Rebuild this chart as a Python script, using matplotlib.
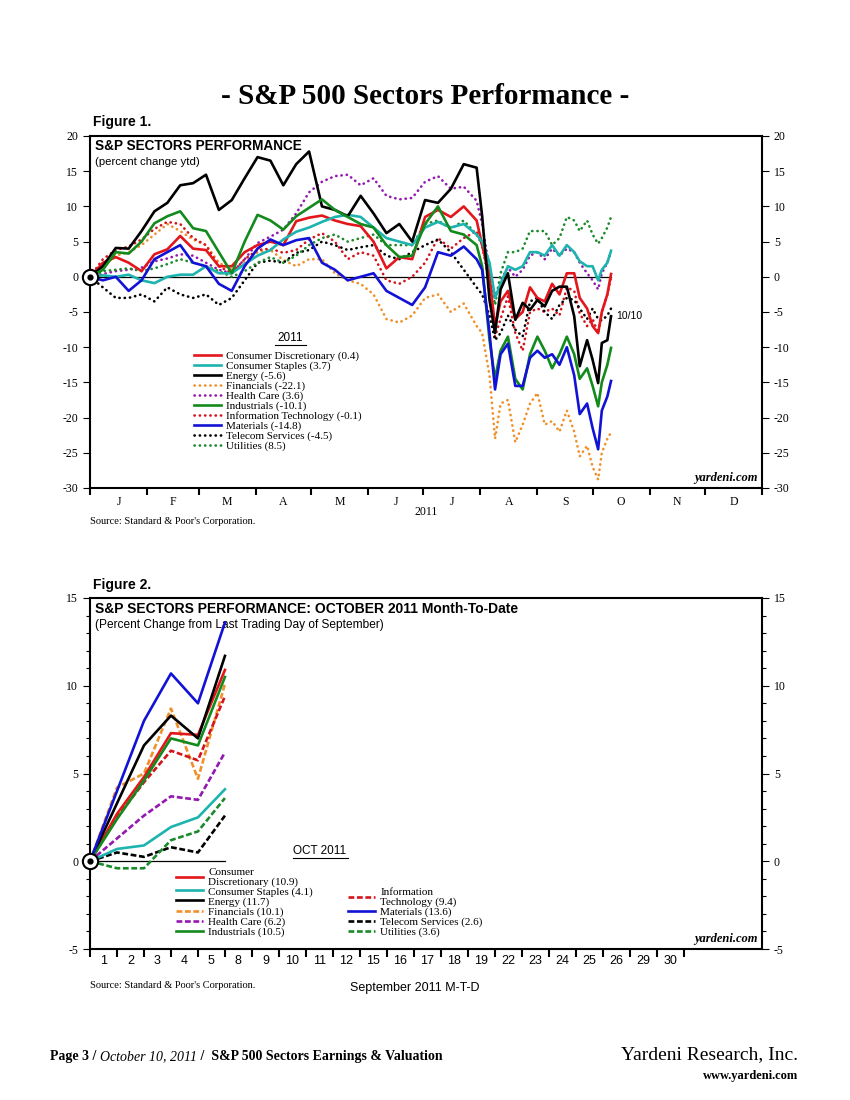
import numpy as np
import matplotlib
matplotlib.use('Agg')
import matplotlib.pyplot as plt
from matplotlib.ticker import MultipleLocator

SERIF = 'Liberation Serif'
SANS = 'Liberation Sans'
plt.rcParams['font.family'] = SERIF
plt.rcParams['axes.unicode_minus'] = False

# ---- Figure 1: percent change ytd 2011, x = days since Dec 31 2010 ----
days = list(range(0, 211, 7)) + [213, 217, 220, 223, 227, 231, 235, 239, 243, 247,
                                  251, 255, 259, 263, 266, 270, 273, 276, 278, 281, 283]

cons_disc = [0, 2.0, 2.8, 2.0, 0.8, 3.2, 3.9, 5.8, 4.0, 3.8, 1.5, 1.5, 3.5, 4.5, 5.0,
             4.5, 7.9, 8.4, 8.7, 8.0, 7.5, 7.2, 5.0, 1.2, 2.8, 2.5, 8.5, 9.5, 8.5,
             10.0, 8.0,
             4.5, 0.0, -7.0, -3.5, -2.0, -6.0, -5.0, -1.5, -3.0, -3.5, -1.0, -2.5, 0.5,
             0.5, -3.0, -4.5, -7.0, -8.0, -5.0, -2.5, 0.4]
cons_staples = [0, 0.2, 0.0, 0.3, -0.5, -0.9, 0.0, 0.3, 0.3, 1.5, 0.5, 0.5, 1.8, 3.0, 3.8,
                5.3, 6.4, 7.0, 7.8, 8.5, 8.8, 8.5, 7.0, 5.5, 5.0, 4.5, 7.0, 7.8, 7.0,
                7.5, 6.0,
                5.0, 2.0, -3.0, -1.0, 1.5, 1.0, 1.5, 3.5, 3.5, 3.0, 4.5, 3.0, 4.5,
                3.5, 2.2, 1.5, 1.5, -0.5, 1.0, 2.0, 3.7]
energy = [0, 1.5, 4.1, 4.0, 6.5, 9.3, 10.5, 13.0, 13.3, 14.5, 9.5, 10.9, 14.0, 17.0, 16.5,
          13.0, 16.0, 17.8, 10.0, 9.5, 8.6, 11.5, 9.0, 6.2, 7.5, 5.0, 10.9, 10.5, 12.5,
          16.0, 15.5,
          8.6, -3.3, -8.0, -1.8, 0.5, -6.1, -3.7, -4.7, -3.3, -4.2, -2.0, -1.4, -1.4,
          -5.6, -12.7, -9.0, -11.8, -15.1, -9.4, -9.0, -5.6]
financials = [0, 1.5, 3.0, 3.5, 4.5, 6.0, 7.5, 6.5, 5.3, 4.5, 2.0, 1.0, 2.0, 3.5, 3.8,
              2.4, 1.5, 2.5, 2.5, 0.5, -0.5, -1.0, -2.5, -6.0, -6.5, -5.5, -3.0, -2.5, -5.0,
              -3.8, -7.0,
              -8.0, -14.0, -23.0, -18.0, -17.5, -23.5, -21.0, -18.0, -16.5, -21.0, -20.5,
              -22.0, -19.0, -22.0, -25.5, -24.0, -27.0, -28.8, -25.0, -23.0, -22.1]
health_care = [0, 0.4, 0.8, 1.0, 1.3, 2.2, 2.6, 3.2, 3.0, 2.0, 1.0, 0.5, 2.5, 4.8, 5.7,
               6.7, 9.0, 12.0, 13.5, 14.3, 14.5, 13.0, 14.0, 11.5, 11.0, 11.2, 13.5, 14.3, 12.5,
               12.8, 10.8,
               7.5, 1.0, -3.0, -0.5, 1.3, 0.0, 1.0, 3.0, 3.5, 2.5, 4.0, 3.0, 4.0,
               3.5, 2.0, 0.5, -0.5, -1.8, 0.5, 2.0, 3.6]
industrials = [0, 1.0, 3.5, 3.3, 5.0, 7.6, 8.6, 9.3, 6.9, 6.5, 3.5, 0.5, 5.0, 8.8, 8.0,
               6.7, 8.6, 9.8, 11.0, 9.5, 8.5, 7.5, 7.0, 4.5, 2.8, 3.0, 7.5, 10.0, 6.5,
               6.0, 4.5,
               1.5, -9.0, -14.5, -10.5, -8.5, -14.5, -16.0, -11.0, -8.5, -10.5, -13.0,
               -11.0, -8.5, -11.0, -14.5, -13.0, -15.5, -18.4, -15.0, -12.5, -10.1]
info_tech = [0, 2.5, 3.8, 4.3, 5.3, 6.8, 7.8, 7.5, 5.5, 4.5, 1.5, 0.5, 2.5, 3.8, 4.0,
             3.4, 3.8, 5.3, 6.2, 5.0, 2.5, 3.5, 3.0, -0.5, -1.0, 0.0, 2.0, 5.5, 4.0,
             5.5, 6.5,
             4.5, -1.0, -8.5, -6.0, -2.8, -8.0, -10.5, -5.0, -4.5, -5.0, -4.5, -5.5, -1.5,
             -2.0, -5.2, -7.0, -6.0, -8.0, -5.0, -2.5, -0.1]
materials = [0, -0.5, 0.0, -2.0, -0.5, 2.5, 3.5, 4.5, 2.0, 1.5, -1.0, -2.0, 1.5, 4.0, 5.3,
             4.5, 5.2, 5.5, 2.0, 1.0, -0.5, 0.0, 0.5, -2.0, -3.0, -4.0, -1.5, 3.5, 3.0,
             4.3, 2.5,
             1.0, -8.0, -16.0, -11.0, -9.5, -15.5, -15.5, -11.5, -10.5, -11.5, -11.0,
             -12.5, -10.0, -14.0, -19.5, -18.0, -21.5, -24.5, -19.0, -17.0, -14.8]
telecom = [0, -1.5, -3.0, -3.0, -2.5, -3.5, -1.5, -2.5, -3.0, -2.5, -4.0, -3.0, -0.5, 2.0, 2.3,
           2.0, 3.4, 3.8, 5.0, 4.5, 3.8, 4.2, 4.5, 3.0, 2.5, 3.5, 4.5, 5.3, 3.5,
           1.0, -1.5,
           -2.5, -5.5, -9.0, -8.0, -5.5, -7.5, -8.5, -3.5, -3.0, -5.0, -6.0, -4.0, -3.0,
           -3.3, -4.5, -6.0, -4.5, -6.0, -6.2, -5.5, -4.5]
utilities = [0, 0.8, 1.0, 1.2, 0.8, 1.2, 1.8, 2.5, 2.0, 1.5, 0.8, 0.0, 0.8, 2.0, 2.8,
             2.0, 3.0, 4.5, 5.5, 6.0, 5.0, 5.5, 6.0, 4.5, 4.5, 4.5, 7.5, 8.0, 6.8,
             8.0, 6.0,
             4.5, 1.0, -4.0, 0.5, 3.5, 3.5, 4.0, 6.5, 6.5, 6.5, 4.5, 5.5, 8.5,
             8.0, 6.5, 8.0, 6.0, 4.7, 5.5, 7.0, 8.5]

sectors = ['Consumer Discretionary', 'Consumer Staples', 'Energy', 'Financials',
           'Health Care', 'Industrials', 'Information Technology', 'Materials',
           'Telecom Services', 'Utilities']
ytd_change = [0.4, 3.7, -5.6, -22.1, 3.6, -10.1, -0.1, -14.8, -4.5, 8.5]
month_names = ['J', 'F', 'M', 'A', 'M', 'J', 'J', 'A', 'S', 'O', 'N', 'D']
month_starts = [0, 31, 59, 90, 120, 151, 181, 212, 243, 273, 304, 334, 365]

# ---- Figure 2: October 2011 month-to-date ----
oct_x = [0, 1, 2, 3, 4, 5]
cons_disc_oct = [0, 2.7, 4.8, 7.3, 7.2, 10.9]
cons_staples_oct = [0, 0.7, 0.9, 1.95, 2.5, 4.1]
energy_oct = [0, 3.3, 6.6, 8.3, 7.0, 11.7]
financials_oct = [0, 4.2, 5.0, 8.7, 4.7, 10.1]
health_care_oct = [0, 1.3, 2.6, 3.7, 3.5, 6.2]
industrials_oct = [0, 2.4, 4.6, 7.0, 6.6, 10.5]
info_tech_oct = [0, 2.5, 4.5, 6.3, 5.75, 9.4]
materials_oct = [0, 4.0, 8.0, 10.7, 9.0, 13.6]
telecom_oct = [0, 0.5, 0.25, 0.8, 0.5, 2.6]
utilities_oct = [0, -0.4, -0.4, 1.2, 1.7, 3.6]
mtd_change = [10.9, 4.1, 11.7, 10.1, 6.2, 10.5, 9.4, 13.6, 2.6, 3.6]
mtd_names = ['Consumer\nDiscretionary', 'Consumer Staples', 'Energy', 'Financials',
             'Health Care', 'Industrials', 'Information\nTechnology', 'Materials',
             'Telecom Services', 'Utilities']
day_labels = ['1', '2', '3', '4', '5', '8', '9', '10', '11', '12', '15', '16', '17',
              '18', '19', '22', '23', '24', '25', '26', '29', '30']

ytd_series = [cons_disc, cons_staples, energy, financials, health_care,
              industrials, info_tech, materials, telecom, utilities]
mtd_series = [cons_disc_oct, cons_staples_oct, energy_oct, financials_oct, health_care_oct,
              industrials_oct, info_tech_oct, materials_oct, telecom_oct, utilities_oct]

colors = ['#e3161c', '#1db3ae', 'black', '#f0902a', '#9418b0',
          '#138a1d', '#d3141c', '#1212d6', 'black', '#1b8a2a']
dotted = [False, False, False, True, True, False, True, False, True, True]

W, H = 850, 1100
fig = plt.figure(figsize=(8.5, 11), dpi=100)


def fx(px):
    return px / W


def fy(py):
    return 1 - py / H


def style_axes(ax):
    for s in ax.spines.values():
        s.set_linewidth(1.5)
    ax.tick_params(axis='y', which='both', left=True, right=True, labelleft=True,
                   labelright=True, direction='out', labelsize=8.5, width=0.8)
    ax.tick_params(axis='y', which='major', length=5)
    ax.tick_params(axis='y', which='minor', length=3)


def origin_marker(ax):
    ax.plot(0, 0, 'o', ms=11, mfc='white', mec='black', mew=1.5, clip_on=False, zorder=20)
    ax.plot(0, 0, 'o', ms=3.5, color='black', clip_on=False, zorder=21)


fig.text(0.5, fy(97), '- S&P 500 Sectors Performance -', ha='center', va='center',
         fontsize=21, fontweight='bold')

# ================= Figure 1 =================
fig.text(fx(93), fy(122), 'Figure 1.', fontsize=10, fontweight='bold', family=SANS,
         va='center')
ax1 = fig.add_axes([fx(90), fy(488), fx(762) - fx(90), fy(136) - fy(488)])
style_axes(ax1)

ax1.plot([days[0], days[-1]], [0, 0], color='black', lw=0.9, zorder=1)
handles = []
for i, ser in enumerate(ytd_series):
    if dotted[i]:
        ln, = ax1.plot(days, ser, color=colors[i], lw=1.9, linestyle=(0, (0.1, 1.9)),
                       dash_capstyle='round', zorder=3)
    else:
        ln, = ax1.plot(days, ser, color=colors[i], lw=1.9, zorder=4)
    handles.append(ln)
origin_marker(ax1)

ax1.set_xlim(0, 365)
ax1.set_ylim(-30, 20)
ax1.yaxis.set_major_locator(MultipleLocator(5))
ax1.set_xticks(month_starts)
ax1.set_xticklabels([])
ax1.set_xticks([(a + b) / 2 for a, b in zip(month_starts[:-1], month_starts[1:])],
               minor=True)
ax1.set_xticklabels(month_names, minor=True, fontsize=8.5)
ax1.tick_params(axis='x', which='major', direction='out', length=5, width=1.5)
ax1.tick_params(axis='x', which='minor', length=0, pad=6)
ax1.set_xlabel('2011', fontsize=8.5, labelpad=-2)

ax1.text(0.008, 0.991, 'S&P SECTORS PERFORMANCE', transform=ax1.transAxes, va='top',
         fontsize=9.8, fontweight='bold', family=SANS)
ax1.text(0.008, 0.94, '(percent change ytd)', transform=ax1.transAxes, va='top',
         fontsize=8.2, family=SANS)
ax1.text(days[-1] + 3, energy[-1], '10/10', fontsize=7.5, family=SANS, va='center')
ax1.text(0.993, 0.012, 'yardeni.com', transform=ax1.transAxes, ha='right', va='bottom',
         fontsize=9, fontweight='bold', fontstyle='italic')

ax1.text(0.298, 0.41, '2011', transform=ax1.transAxes, ha='center', va='bottom',
         fontsize=8.5, family=SANS)
ax1.plot([0.275, 0.322], [0.407, 0.407], transform=ax1.transAxes, color='black', lw=0.8)
leg1 = ax1.legend(handles, [f'{n} ({v})' for n, v in zip(sectors, ytd_change)],
                  loc='upper left', bbox_to_anchor=(0.155, 0.39), frameon=False,
                  fontsize=8, labelspacing=0.0, handlelength=2.4, handletextpad=0.5,
                  borderpad=0, borderaxespad=0)

fig.text(fx(90), fy(521), "Source: Standard & Poor's Corporation.", fontsize=7.5,
         va='center')

# ================= Figure 2 =================
fig.text(fx(93), fy(585), 'Figure 2.', fontsize=10, fontweight='bold', family=SANS,
         va='center')
ax2 = fig.add_axes([fx(90), fy(949), fx(762) - fx(90), fy(598) - fy(949)])
style_axes(ax2)

ax2.plot([oct_x[0], oct_x[-1]], [0, 0], color='black', lw=0.9, zorder=1)
handles2 = []
for i, ser in enumerate(mtd_series):
    if dotted[i]:
        ln, = ax2.plot(oct_x, ser, color=colors[i], lw=1.9, linestyle=(0, (2.2, 1.0)),
                       zorder=3)
    else:
        ln, = ax2.plot(oct_x, ser, color=colors[i], lw=1.9, zorder=4)
    handles2.append(ln)
origin_marker(ax2)

ax2.set_xlim(0, 24.9)
ax2.set_ylim(-5, 15)
ax2.yaxis.set_major_locator(MultipleLocator(5))
ax2.yaxis.set_minor_locator(MultipleLocator(1))
ax2.set_xticks(range(len(day_labels) + 1))
ax2.set_xticklabels([])
ax2.set_xticks(np.arange(len(day_labels)) + 0.5, minor=True)
ax2.set_xticklabels(day_labels, minor=True, fontsize=9, family=SANS)
ax2.tick_params(axis='x', which='major', direction='out', length=6, width=1.5)
ax2.tick_params(axis='x', which='minor', length=0, pad=4)

ax2.text(0.008, 0.99, 'S&P SECTORS PERFORMANCE: OCTOBER 2011 Month-To-Date',
         transform=ax2.transAxes, va='top', fontsize=10, fontweight='bold', family=SANS)
ax2.text(0.008, 0.94, '(Percent Change from Last Trading Day of September)',
         transform=ax2.transAxes, va='top', fontsize=8.6, family=SANS)
ax2.text(0.993, 0.012, 'yardeni.com', transform=ax2.transAxes, ha='right', va='bottom',
         fontsize=9, fontweight='bold', fontstyle='italic')

ax2.text(0.342, 0.263, 'OCT 2011', transform=ax2.transAxes, ha='center', va='bottom',
         fontsize=8.5, family=SANS)
ax2.plot([0.302, 0.384], [0.26, 0.26], transform=ax2.transAxes, color='black', lw=0.8)

labels2 = [f'{n} ({v})' for n, v in zip(mtd_names, mtd_change)]
leg_a = ax2.legend(handles2[:6], labels2[:6], loc='lower left',
                   bbox_to_anchor=(0.128, 0.035), frameon=False, fontsize=8,
                   labelspacing=0.0, handlelength=2.4, handletextpad=0.5,
                   borderpad=0, borderaxespad=0)
ax2.add_artist(leg_a)
leg_b = ax2.legend(handles2[6:], labels2[6:], loc='lower left',
                   bbox_to_anchor=(0.384, 0.035), frameon=False, fontsize=8,
                   labelspacing=0.0, handlelength=2.4, handletextpad=0.5,
                   borderpad=0, borderaxespad=0)
for lg in (leg_a, leg_b):
    for t in lg.get_texts():
        t.set_linespacing(0.95)

fig.text(fx(90), fy(985), "Source: Standard & Poor's Corporation.", fontsize=7.5,
         va='center')
fig.text(fx(350), fy(988), 'September 2011 M-T-D', fontsize=9, family=SANS, va='center')

# ================= footer =================
t1 = fig.text(fx(50), fy(1063), 'Page 3 / ', fontsize=10, fontweight='bold', va='bottom')
a2 = plt.annotate('October 10, 2011', xy=(1, 0), xycoords=t1, va='bottom',
                  fontsize=10, fontstyle='italic', annotation_clip=False)
a3 = plt.annotate(' /  S&P 500 Sectors Earnings & Valuation', xy=(1, 0), xycoords=a2,
                  va='bottom', fontsize=10, fontweight='bold', annotation_clip=False)
fig.text(fx(798), fy(1055), 'Yardeni Research, Inc.', fontsize=14, ha='right',
         va='center')
fig.text(fx(798), fy(1076), 'www.yardeni.com', fontsize=9, fontweight='bold',
         ha='right', va='center')

fig.savefig('out.png', dpi=100)
